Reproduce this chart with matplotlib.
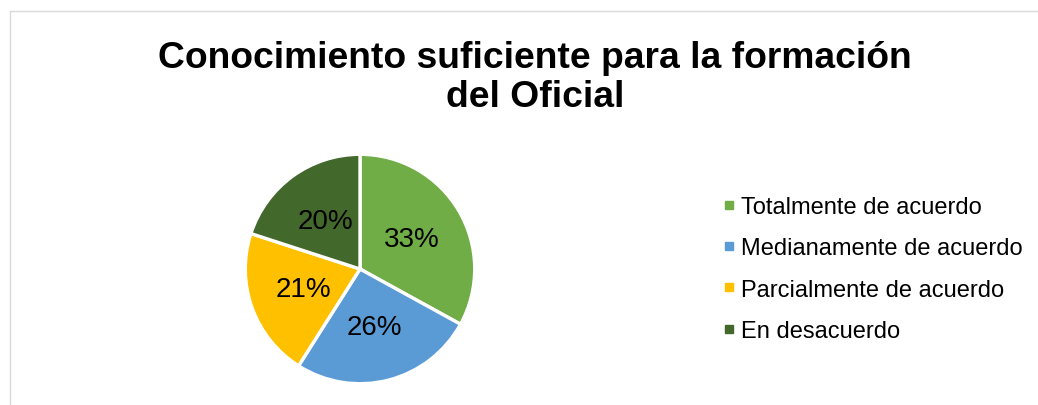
import matplotlib
matplotlib.use("Agg")
import matplotlib.pyplot as plt
from matplotlib.lines import Line2D
from matplotlib.patches import Rectangle

categories = ["Totalmente de acuerdo", "Medianamente de acuerdo",
              "Parcialmente de acuerdo", "En desacuerdo"]
values = [33, 26, 21, 20]
colors = ["#70AD47", "#5B9BD5", "#FFC000", "#43682B"]
title = "Conocimiento suficiente para la formación\ndel Oficial"

plt.rcParams["font.family"] = ["Liberation Sans", "DejaVu Sans"]

W, H = 1038, 406
fig = plt.figure(figsize=(W / 100, H / 100), dpi=100)

# chart area frame
fig.patches.append(Rectangle((10 / W, -0.01), 1.0, 1 - 12 / H + 0.01,
                             transform=fig.transFigure, fill=False,
                             edgecolor="#D9D9D9", linewidth=1.0))

fig.text(535 / W, 1 - 78 / H, title, ha="center", va="center",
         fontsize=26.8, fontweight="bold", linespacing=1.18)

cx, cy, r = 360, 270, 117
ax = fig.add_axes([(cx - r) / W, (H - cy - r) / H, 2 * r / W, 2 * r / H])
wedges, texts, autotexts = ax.pie(
    values, colors=colors, startangle=90, counterclock=False,
    autopct=lambda p: f"{p:.0f}%", pctdistance=0.52,
    wedgeprops=dict(edgecolor="white", linewidth=2.4),
    textprops=dict(fontsize=20, color="black"))
ax.set_xlim(-1.02, 1.02)
ax.set_ylim(-1.02, 1.02)
ax.set_aspect("equal")
ax.axis("off")

handles = [Line2D([], [], marker="s", linestyle="none", markersize=6,
                  markerfacecolor=c, markeredgecolor=c) for c in colors]
fig.legend(handles, categories, loc="upper left",
           bbox_to_anchor=(711 / W, 1 - 185 / H), frameon=False,
           fontsize=17, handlelength=0.5, handletextpad=0.25,
           labelspacing=0.82, borderpad=0)

fig.savefig("out.png", dpi=100)
